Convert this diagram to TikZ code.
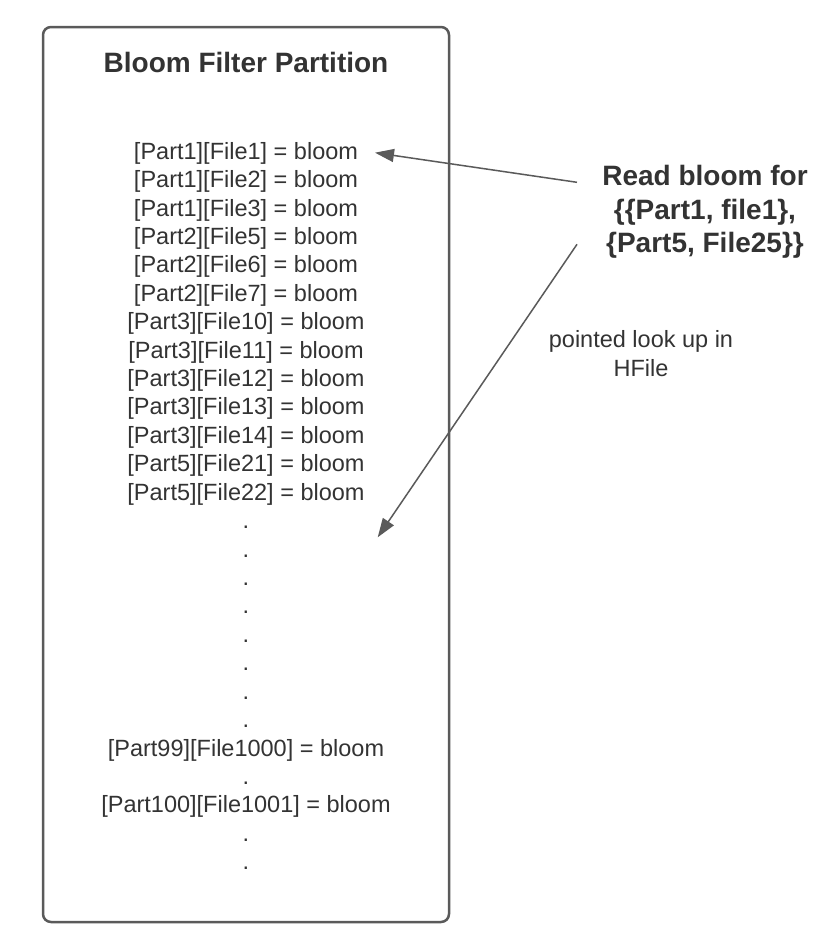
\documentclass[tikz,border=0pt]{standalone}
\usepackage{fontspec}
\setmainfont{Liberation Sans}
\usetikzlibrary{arrows.meta}
\definecolor{txt}{HTML}{333333}
\definecolor{ln}{HTML}{5A5A5A}
\begin{document}
\begin{tikzpicture}[x=1pt,y=-1pt,
  rowtext/.style={anchor=base, inner sep=0pt, text=txt, font=\fontsize{23.5}{28}\selectfont},
  titletext/.style={anchor=base, inner sep=0pt, text=txt, font=\bfseries\fontsize{28}{34}\selectfont},
  querytext/.style={anchor=center, inner sep=0pt, align=center, text=txt, font=\bfseries\fontsize{28}{33.5}\selectfont},
  notetext/.style={anchor=center, inner sep=0pt, align=center, text=txt, font=\fontsize{23.5}{29}\selectfont},
  arr/.style={draw=ln, line width=1.5pt, -{Triangle[length=19pt,width=13pt]}},
  frame/.style={draw=ln, line width=2.5pt, rounded corners=8pt, inner sep=0pt}]
\useasboundingbox (0,0) rectangle (822,951);
\fill[white] (0,0) rectangle (822,951);
\node[frame, minimum width=406pt, minimum height=895pt] (box) at (246,474.5) {};
\node[titletext] (title) at (246,72.7) {Bloom Filter Partition};
\foreach \rtext [count=\i] in {
  {[Part1][File1] = bloom},{[Part1][File2] = bloom},{[Part1][File3] = bloom},
  {[Part2][File5] = bloom},{[Part2][File6] = bloom},{[Part2][File7] = bloom},
  {[Part3][File10] = bloom},{[Part3][File11] = bloom},{[Part3][File12] = bloom},
  {[Part3][File13] = bloom},{[Part3][File14] = bloom},{[Part5][File21] = bloom},
  {[Part5][File22] = bloom},.,.,.,.,.,.,.,.,
  {[Part99][File1000] = bloom},.,{[Part100][File1001] = bloom},.,.}{
  \node[rowtext] (r\i) at (246,{159.2+28.42*(\i-1)}) {\rtext};
}
\node[querytext] (query) at (705,212) {Read bloom for\\\{\{Part1, file1\},\\\{Part5, File25\}\}};
\node[notetext] (note) at (641,354) {pointed look up in\\HFile};
\coordinate (a1s) at (577,182.3);
\coordinate (a1e) at (375,152.7);
\coordinate (a2s) at (577,244.3);
\coordinate (a2e) at (377.7,537.3);
\draw[arr] (a1s) -- (a1e);
\draw[arr] (a2s) -- (a2e);
\end{tikzpicture}
\end{document}
